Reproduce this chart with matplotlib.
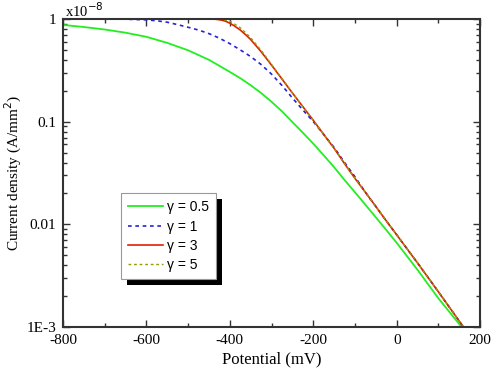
import matplotlib
matplotlib.use("Agg")
import matplotlib.pyplot as plt
import numpy as np
from matplotlib.patches import Rectangle
from matplotlib.ticker import FixedLocator, LogLocator, NullFormatter

# potentials (mV) and current densities (x1e-8 A/mm2)
E_g05 = [-800, -750, -700, -650, -600, -550, -500, -450, -400, -375, -350, -325,
         -300, -275, -250, -225, -200, -175, -150, -125, -100, -75, -50, -25,
         0, 50, 100, 160]
J_g05 = [0.875, 0.835, 0.79, 0.735, 0.67, 0.585, 0.495, 0.40, 0.305, 0.265, 0.226, 0.19,
         0.156, 0.126, 0.099, 0.078, 0.061, 0.047, 0.036, 0.027, 0.0205, 0.0155, 0.0117, 0.0088,
         0.0066, 0.0036, 0.0019, 0.00095]

E_g1 = [-800, -700, -650, -600, -575, -550, -525, -500, -475, -450, -425, -400,
        -375, -350, -325, -300, -275, -250, -225, -200, -175, -150, -125, -100,
        -75, -50, -25, 0, 50, 100, 160]
J_g1 = [1.0, 1.0, 0.995, 0.98, 0.96, 0.93, 0.88, 0.83, 0.78, 0.72, 0.65, 0.575,
        0.50, 0.43, 0.36, 0.29, 0.225, 0.17, 0.13, 0.10, 0.075, 0.056, 0.040, 0.029,
        0.0205, 0.0149, 0.0108, 0.0079, 0.0042, 0.0022, 0.001]

E_g3 = [-800, -600, -450, -440, -430, -420, -410, -400, -390, -375, -360, -350,
        -325, -300, -275, -250, -225, -200, -175, -150, -125, -100, -75, -50,
        -25, 0, 50, 100, 160]
J_g3 = [1.0, 1.0, 1.0, 0.998, 0.99, 0.975, 0.95, 0.91, 0.86, 0.78, 0.69, 0.63,
        0.48, 0.355, 0.26, 0.19, 0.14, 0.103, 0.075, 0.055, 0.039, 0.028, 0.0205, 0.0149,
        0.0108, 0.0079, 0.0042, 0.0022, 0.001]

E_g5 = [-800, -600, -440, -430, -420, -410, -400, -390, -375, -360, -350, -325,
        -300, -275, -250, -225, -200, -175, -150, -125, -100, -75, -50, -25,
        0, 50, 100, 160]
J_g5 = [1.0, 1.0, 1.0, 0.998, 0.99, 0.975, 0.95, 0.90, 0.82, 0.72, 0.655, 0.495,
        0.36, 0.263, 0.19, 0.14, 0.103, 0.075, 0.055, 0.039, 0.028, 0.0205, 0.0149, 0.0108,
        0.0079, 0.0042, 0.0022, 0.001]

labels = ["\u03b3 = 0.5", "\u03b3 = 1", "\u03b3 = 3", "\u03b3 = 5"]

serif = ["Liberation Serif", "DejaVu Serif"]
sans = ["Liberation Sans", "DejaVu Sans"]

fig = plt.figure(figsize=(4.96, 3.72), dpi=100)
ax = fig.add_axes([0.127, 0.121, 0.841, 0.828])

ax.plot(E_g05, J_g05, color="#22ee22", lw=1.3, label=labels[0])
ax.plot(E_g1, J_g1, color="#2222dd", lw=1.2, ls=(0, (2.2, 2.2)), label=labels[1])
ax.plot(E_g3, J_g3, color="#dd2200", lw=1.2, label=labels[2])
ax.plot(E_g5, J_g5, color="#999900", lw=1.0, ls=(0, (2, 2)), label=labels[3])

ax.set_yscale("log")
ax.set_xlim(-800, 200)
ax.set_ylim(1e-3, 1)

ax.xaxis.set_major_locator(FixedLocator([-800, -600, -400, -200, 0, 200]))
ax.xaxis.set_minor_locator(FixedLocator([-700, -500, -300, -100, 100]))
ax.set_xticklabels(["-800", "-600", "-400", "-200", "0", "200"], fontfamily=serif, fontsize=11)
ax.yaxis.set_major_locator(FixedLocator([1e-3, 1e-2, 1e-1, 1]))
ax.set_yticklabels(["1E-3", "0.01", "0.1", "1"], fontfamily=serif, fontsize=11)
ax.yaxis.set_minor_locator(LogLocator(base=10, subs=np.arange(2, 10)))
ax.yaxis.set_minor_formatter(NullFormatter())

ax.tick_params(which="both", direction="in", top=True, right=True, width=1.0, color="#333333")
ax.tick_params(which="major", length=5)
ax.tick_params(which="minor", length=3)
ax.tick_params(axis="x", which="major", pad=5)
ax.tick_params(axis="y", which="major", pad=5)
for s in ax.spines.values():
    s.set_linewidth(1.5)
    s.set_color("#333333")

ax.set_xlabel("Potential (mV)", fontfamily=serif, fontsize=12, labelpad=3)
ax.set_ylabel("Current density (A/mm$^2$)", fontfamily=serif, fontsize=11, labelpad=2)
fig.text(0.131, 0.997, "x10$^{-8}$", fontfamily=serif, fontsize=10.5, ha="left", va="top")

leg = ax.legend(loc="upper left", bbox_to_anchor=(0.139, 0.434), frameon=True, fancybox=False,
                edgecolor="#999999", framealpha=1, borderpad=0.5, handlelength=2.5,
                handletextpad=0.3, labelspacing=0.38, borderaxespad=0,
                prop={"family": sans, "size": 10})
leg.get_frame().set_linewidth(0.8)
leg.set_zorder(5)

fig.canvas.draw()
bb = leg.get_window_extent().transformed(fig.transFigure.inverted())
shadow = Rectangle((bb.x0 + 6 / 496, bb.y0 - 6 / 372), bb.width, bb.height,
                   transform=fig.transFigure, facecolor="black", edgecolor="none", zorder=4)
ax.add_artist(shadow)
shadow.set_clip_on(False)

fig.savefig("out.png", dpi=100)
